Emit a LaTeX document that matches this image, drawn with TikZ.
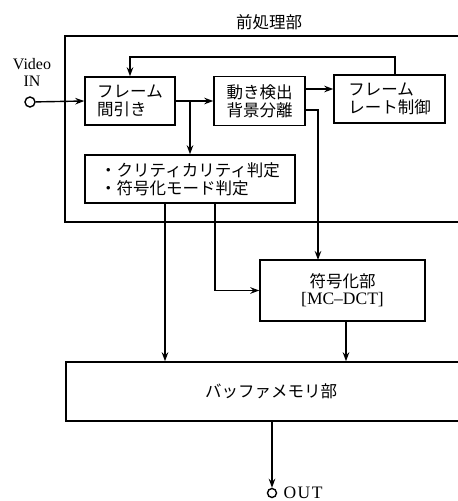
\documentclass[tikz,border=0pt]{standalone}
\usepackage{fontspec}
\setmainfont{Liberation Serif}
\newfontfamily\jp{Noto Sans CJK JP}
\usetikzlibrary{arrows.meta}
\begin{document}
\begin{tikzpicture}[x=1pt,y=-1pt,
  line width=1.4pt,
  arr/.style={-{Stealth[length=9pt,width=6.5pt]}},
  box/.style={draw, line width=1.4pt, font=\jp\fontsize{16.5}{18}\selectfont, align=left, inner sep=0pt},
  jtext/.style={font=\jp\fontsize{16.5}{18}\selectfont, inner sep=0pt},
  ltext/.style={font=\fontsize{16}{17}\selectfont, inner sep=0pt, align=center},
  term/.style={circle, draw, line width=1.4pt, fill=white, inner sep=0pt}]
\useasboundingbox (0,0) rectangle (458,501);
\clip (0,0) rectangle (458,501);
\fill[white] (0,0) rectangle (458,501);
% regions
\node[draw, line width=1.4pt, minimum width=410pt, minimum height=186pt, inner sep=0pt] (pre) at (270,129) {};
\node[jtext] (pretitle) at (269,22) {前処理部};
\node[box, minimum width=410pt, minimum height=59pt] (buf) at (271,391.5) {バッファメモリ部};
% blocks
\node[box, minimum width=90pt, minimum height=48pt] (frame) at (130,101) {フレーム\\間引き};
\node[box, minimum width=91pt, minimum height=49pt] (motion) at (259.5,101) {動き検出\\背景分離};
\node[box, minimum width=111pt, minimum height=48pt] (rate) at (389.5,99) {フレーム\\レート制御};
\node[box, minimum width=210pt, minimum height=48pt] (crit) at (190,179) {・クリティカリティ判定\\・符号化モード判定};
\node[box, minimum width=165pt, minimum height=61pt, align=center] (enc) at (342.5,290.5) {符号化部\\[-1pt]{\rmfamily\fontsize{17.5}{18}\selectfont [MC--DCT]}};
% terminals
\node[ltext] (vin) at (32,72) {Video\\IN};
\node[term, minimum size=10pt] (in) at (30,102) {};
\node[term, minimum size=9pt] (out) at (272,493) {};
\node[ltext, anchor=west, font=\fontsize{17.5}{18}\selectfont\addfontfeature{LetterSpace=8}] (outlbl) at (283,493) {OUT};
% helper coordinates
\coordinate (br) at (190,101);
\coordinate (fb) at (395,57);
\coordinate (m1) at (305,89);
\coordinate (m2) at (305,110);
\coordinate (e1) at (318,260);
\coordinate (c1) at (165,0);
\coordinate (c2) at (215,0);
\coordinate (c3) at (346,0);
% connectors
\draw[arr] (in) -- (frame.west);
\draw[arr] (frame.east) -- (motion.west);
\draw[arr] (br) -- (br |- crit.north);
\draw[arr] (m1) -- (m1 -| rate.west);
\draw[arr] (rate.north -| fb) -- (fb) -| (frame.north);
\draw[arr] (m2) -| (e1);
\draw[arr] (crit.south -| c1) -- (buf.north -| c1);
\draw[arr] (crit.south -| c2) |- (enc.west);
\draw[arr] (enc.south -| c3) -- (buf.north -| c3);
\draw[arr] (buf.south -| out) -- (out.north);
\end{tikzpicture}
\end{document}
